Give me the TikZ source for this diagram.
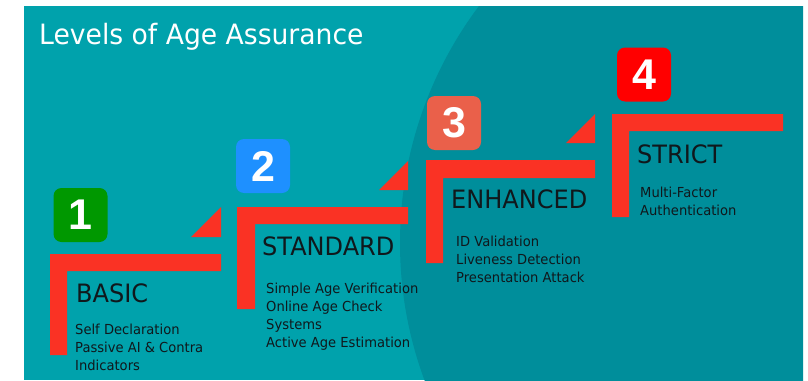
\documentclass[tikz,border=0pt]{standalone}
\usepackage{fontspec}
\setmainfont{DejaVu Sans}[FakeStretch=0.95]
\newfontfamily\digitfont{Liberation Sans}
\definecolor{tealA}{RGB}{0,162,172}
\definecolor{tealB}{RGB}{0,142,155}
\definecolor{barred}{RGB}{250,50,36}
\definecolor{bgreen}{RGB}{0,152,0}
\definecolor{bblue}{RGB}{30,144,255}
\definecolor{bsalmon}{RGB}{234,96,74}
\definecolor{bred}{RGB}{255,0,0}
\definecolor{txt}{RGB}{16,24,28}
\newcommand{\bodylines}[1]{\begin{tabular}[t]{@{}l@{}}#1\end{tabular}}
\tikzset{
  badge/.style={fill=#1, rounded corners=8pt, minimum width=54pt, minimum height=54pt, inner sep=0pt,
     text=white, font=\digitfont\bfseries\fontsize{43}{43}\selectfont},
  head/.style={anchor=base west, inner sep=0pt, text=txt, font=\fontsize{25.3}{25.3}\selectfont},
  body/.style={anchor=base west, inner sep=0pt, text=txt, font=\fontsize{13.8}{18.3}\selectfont},
  bar/.style={fill=barred, draw=none}
}
\begin{document}
\begin{tikzpicture}[x=1pt,y=-1pt]
\useasboundingbox (0,0) rectangle (808,380);
\fill[white] (0,0) rectangle (808,380);
\fill[tealA] (24,6) rectangle (803,380);
\begin{scope}
\clip (24,6) rectangle (803,380);
\fill[tealB] (795,243) circle[radius=395pt];
\end{scope}
\node[anchor=base west, inner sep=0pt, text=white, font=\fontsize{28}{28}\selectfont] (title) at (39,44) {Levels of Age Assurance};
% step 1
\fill[bar] (50,254) -- (221,254) -- (221,271) -- (67,271) -- (67,355) -- (50,355) -- cycle;
\fill[bar] (191,237) -- (221,207) -- (221,237) -- cycle;
\node[badge=bgreen] (b1) at (80.5,215) {1};
\node[head] (h1) at (76,302) {BASIC};
\node[body] (t1) at (75,334) {\bodylines{Self Declaration\\Passive AI \& Contra\\Indicators}};
% step 2
\fill[bar] (237,207) -- (408,207) -- (408,224) -- (255,224) -- (255,309) -- (237,309) -- cycle;
\fill[bar] (379,190) -- (408,161) -- (408,190) -- cycle;
\node[badge=bblue] (b2) at (263,166) {2};
\node[head] (h2) at (262,255) {STANDARD};
\node[body] (t2) at (266,293) {\bodylines{Simple Age Verification\\Online Age Check\\Systems\\Active Age Estimation}};
% step 3
\fill[bar] (426,160) -- (595,160) -- (595,178) -- (443,178) -- (443,263) -- (426,263) -- cycle;
\fill[bar] (566,143) -- (595,114) -- (595,143) -- cycle;
\node[badge=bsalmon] (b3) at (454,123) {3};
\node[head] (h3) at (451,208) {ENHANCED};
\node[body] (t3) at (456,246) {\bodylines{ID Validation\\Liveness Detection\\Presentation Attack}};
% step 4
\fill[bar] (612,114) -- (783,114) -- (783,131) -- (629,131) -- (629,217) -- (612,217) -- cycle;
\node[badge=bred] (b4) at (644,74.5) {4};
\node[head] (h4) at (637,163) {STRICT};
\node[body] (t4) at (640,197) {\bodylines{Multi-Factor\\Authentication}};
\end{tikzpicture}
\end{document}
